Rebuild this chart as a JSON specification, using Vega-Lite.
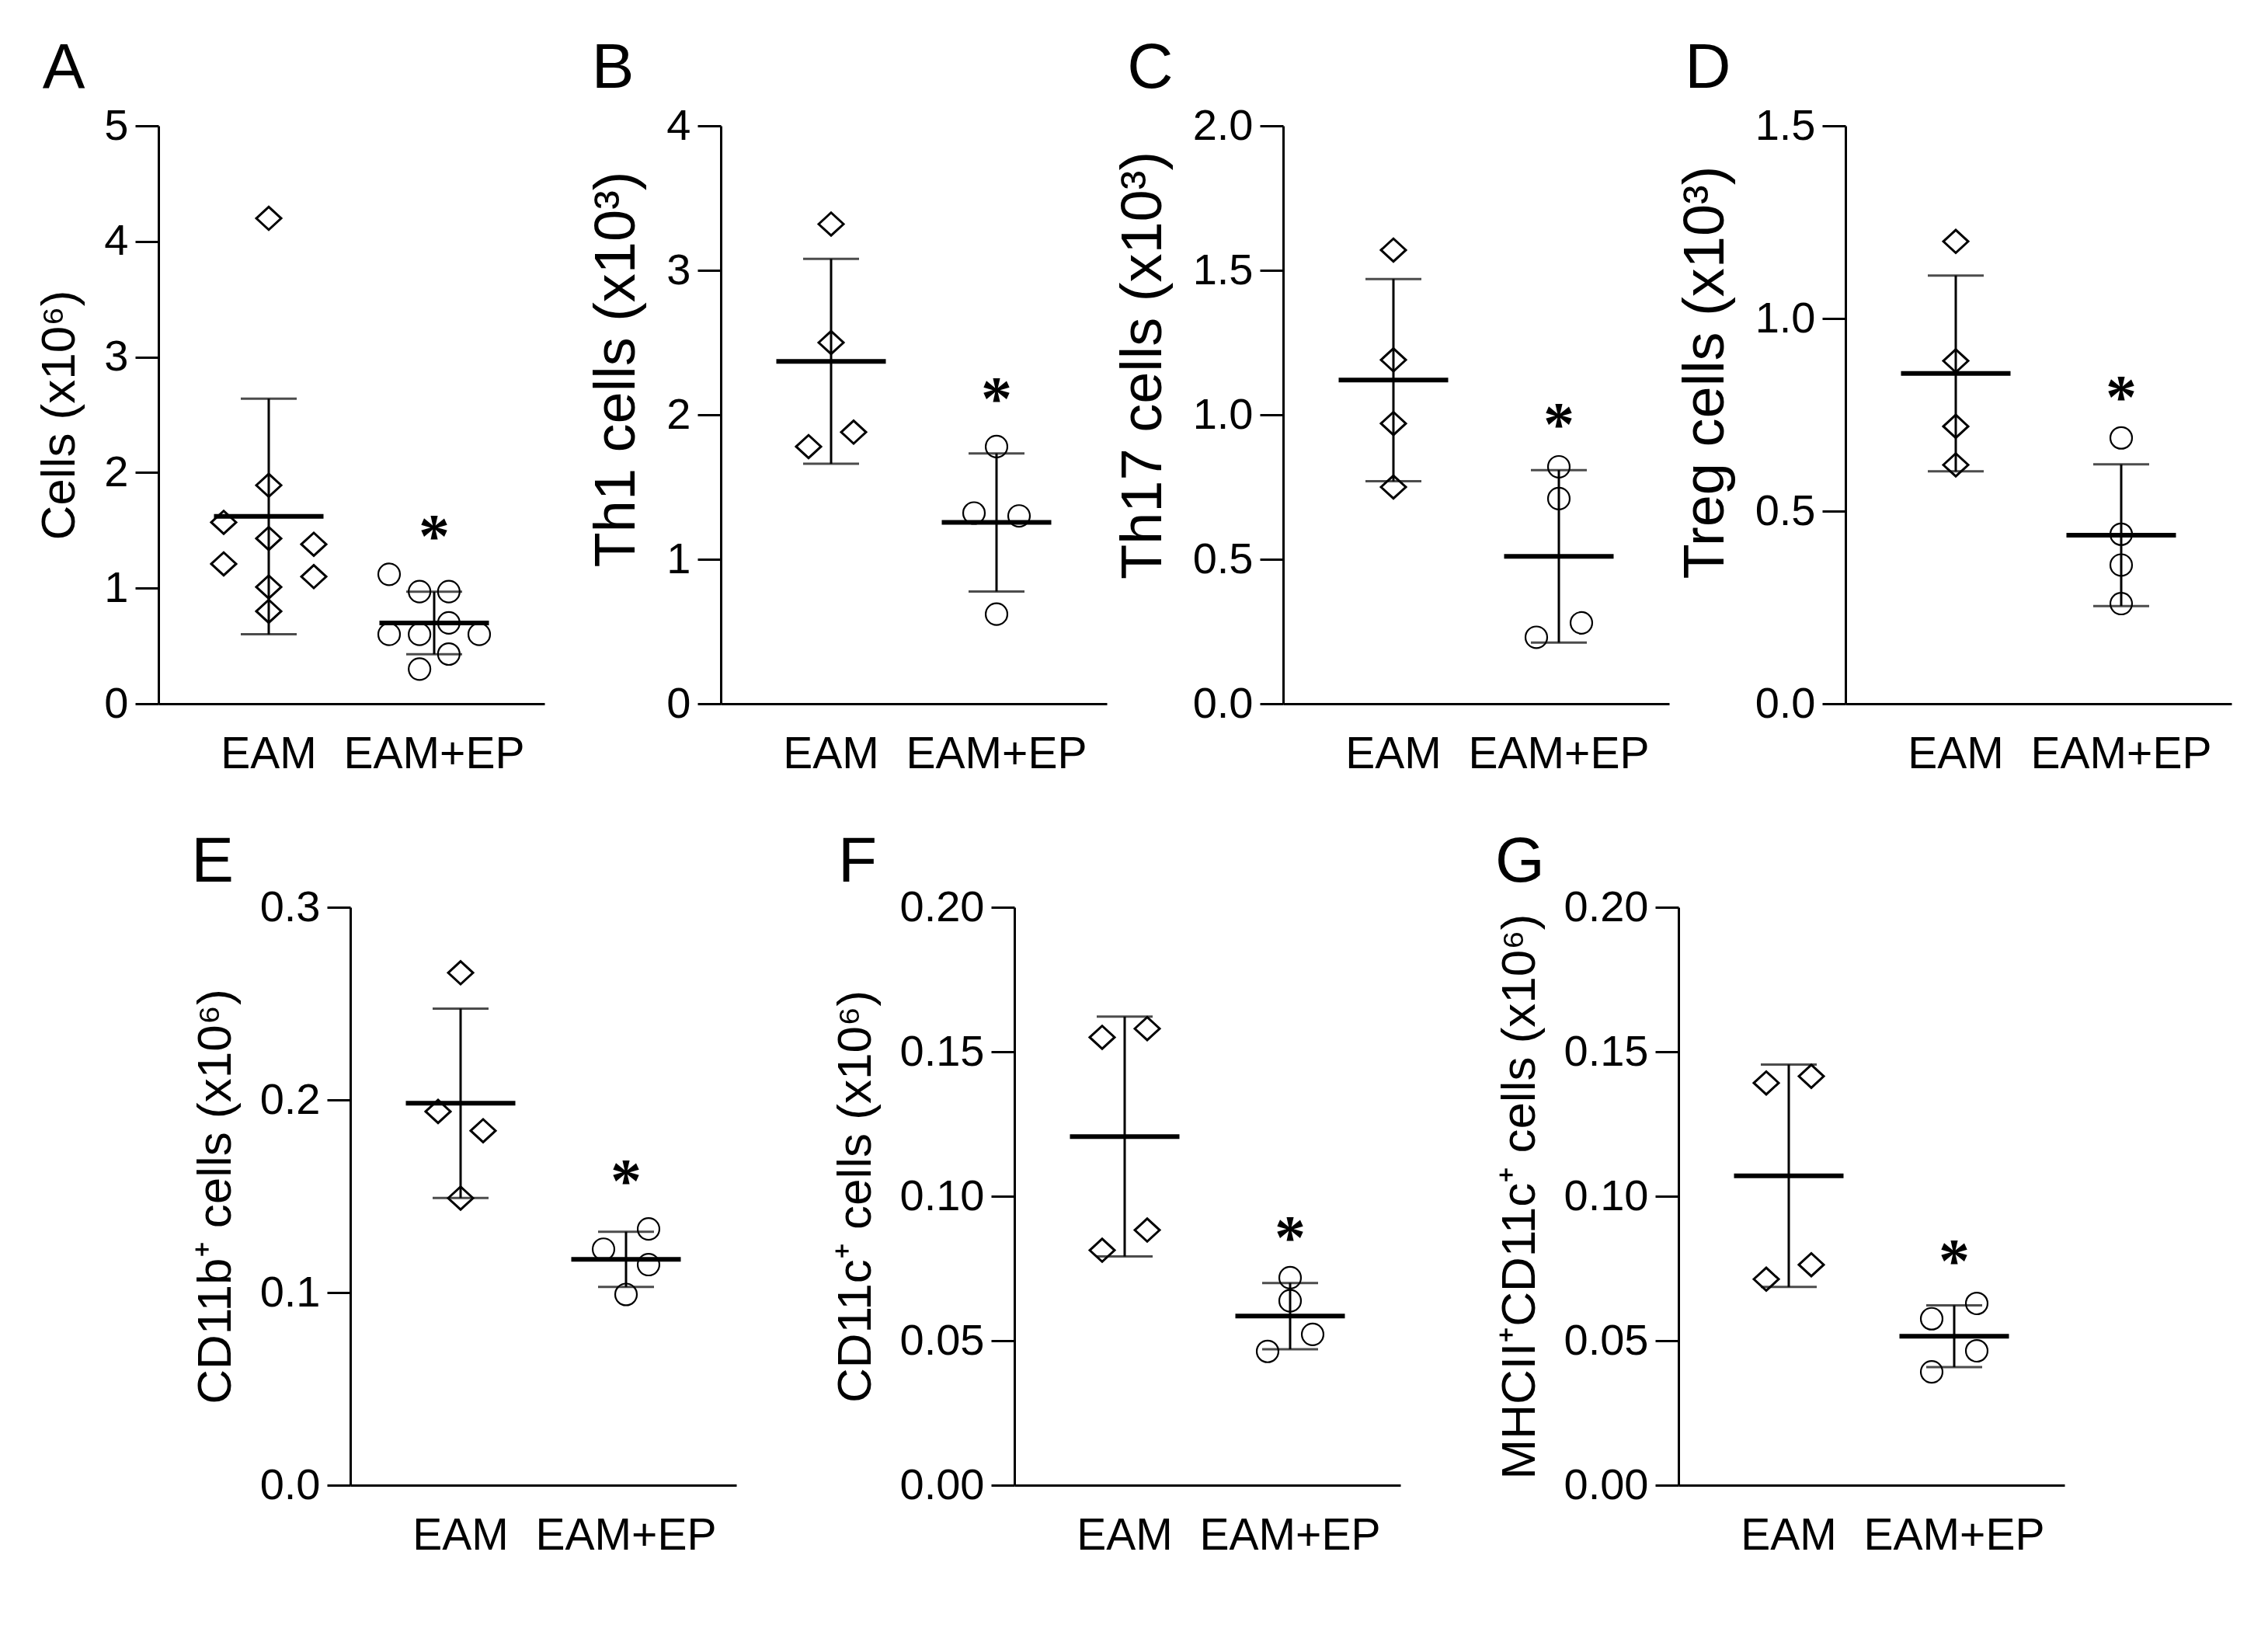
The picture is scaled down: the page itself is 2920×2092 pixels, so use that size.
{
  "$schema": "https://vega.github.io/schema/vega-lite/v6.json",
  "autosize": {"type": "none"},
  "padding": {"left": 204, "top": 162, "right": 2716, "bottom": 1930},
  "background": "white",
  "datasets": {
    "pts": [
      {"panel": "A", "group": "EAM", "value": 4.20, "lane": 0},
      {"panel": "A", "group": "EAM", "value": 1.89, "lane": 0},
      {"panel": "A", "group": "EAM", "value": 1.57, "lane": -2},
      {"panel": "A", "group": "EAM", "value": 1.43, "lane": 0},
      {"panel": "A", "group": "EAM", "value": 1.38, "lane": 2},
      {"panel": "A", "group": "EAM", "value": 1.21, "lane": -2},
      {"panel": "A", "group": "EAM", "value": 1.10, "lane": 2},
      {"panel": "A", "group": "EAM", "value": 1.01, "lane": 0},
      {"panel": "A", "group": "EAM", "value": 0.80, "lane": 0},
      {"panel": "A", "group": "EAM+EP", "value": 1.12, "lane": -2},
      {"panel": "A", "group": "EAM+EP", "value": 0.97, "lane": -0.65},
      {"panel": "A", "group": "EAM+EP", "value": 0.97, "lane": 0.65},
      {"panel": "A", "group": "EAM+EP", "value": 0.70, "lane": 0.65},
      {"panel": "A", "group": "EAM+EP", "value": 0.60, "lane": -2},
      {"panel": "A", "group": "EAM+EP", "value": 0.60, "lane": -0.65},
      {"panel": "A", "group": "EAM+EP", "value": 0.60, "lane": 2},
      {"panel": "A", "group": "EAM+EP", "value": 0.43, "lane": 0.65},
      {"panel": "A", "group": "EAM+EP", "value": 0.30, "lane": -0.65},
      {"panel": "B", "group": "EAM", "value": 3.32, "lane": 0},
      {"panel": "B", "group": "EAM", "value": 2.50, "lane": 0},
      {"panel": "B", "group": "EAM", "value": 1.88, "lane": 1},
      {"panel": "B", "group": "EAM", "value": 1.78, "lane": -1},
      {"panel": "B", "group": "EAM+EP", "value": 1.78, "lane": 0},
      {"panel": "B", "group": "EAM+EP", "value": 1.32, "lane": -1},
      {"panel": "B", "group": "EAM+EP", "value": 1.30, "lane": 1},
      {"panel": "B", "group": "EAM+EP", "value": 0.62, "lane": 0},
      {"panel": "C", "group": "EAM", "value": 1.57, "lane": 0},
      {"panel": "C", "group": "EAM", "value": 1.19, "lane": 0},
      {"panel": "C", "group": "EAM", "value": 0.97, "lane": 0},
      {"panel": "C", "group": "EAM", "value": 0.75, "lane": 0},
      {"panel": "C", "group": "EAM+EP", "value": 0.82, "lane": 0},
      {"panel": "C", "group": "EAM+EP", "value": 0.71, "lane": 0},
      {"panel": "C", "group": "EAM+EP", "value": 0.28, "lane": 1},
      {"panel": "C", "group": "EAM+EP", "value": 0.23, "lane": -1},
      {"panel": "D", "group": "EAM", "value": 1.20, "lane": 0},
      {"panel": "D", "group": "EAM", "value": 0.89, "lane": 0},
      {"panel": "D", "group": "EAM", "value": 0.72, "lane": 0},
      {"panel": "D", "group": "EAM", "value": 0.62, "lane": 0},
      {"panel": "D", "group": "EAM+EP", "value": 0.69, "lane": 0},
      {"panel": "D", "group": "EAM+EP", "value": 0.44, "lane": 0},
      {"panel": "D", "group": "EAM+EP", "value": 0.36, "lane": 0},
      {"panel": "D", "group": "EAM+EP", "value": 0.26, "lane": 0},
      {"panel": "E", "group": "EAM", "value": 0.266, "lane": 0},
      {"panel": "E", "group": "EAM", "value": 0.194, "lane": -1},
      {"panel": "E", "group": "EAM", "value": 0.184, "lane": 1},
      {"panel": "E", "group": "EAM", "value": 0.149, "lane": 0},
      {"panel": "E", "group": "EAM+EP", "value": 0.133, "lane": 1},
      {"panel": "E", "group": "EAM+EP", "value": 0.1225, "lane": -1},
      {"panel": "E", "group": "EAM+EP", "value": 0.1145, "lane": 1},
      {"panel": "E", "group": "EAM+EP", "value": 0.099, "lane": 0},
      {"panel": "F", "group": "EAM", "value": 0.155, "lane": -1},
      {"panel": "F", "group": "EAM", "value": 0.158, "lane": 1},
      {"panel": "F", "group": "EAM", "value": 0.0813, "lane": -1},
      {"panel": "F", "group": "EAM", "value": 0.0883, "lane": 1},
      {"panel": "F", "group": "EAM+EP", "value": 0.0718, "lane": 0},
      {"panel": "F", "group": "EAM+EP", "value": 0.0638, "lane": 0},
      {"panel": "F", "group": "EAM+EP", "value": 0.0522, "lane": 1},
      {"panel": "F", "group": "EAM+EP", "value": 0.0463, "lane": -1},
      {"panel": "G", "group": "EAM", "value": 0.1392, "lane": -1},
      {"panel": "G", "group": "EAM", "value": 0.1415, "lane": 1},
      {"panel": "G", "group": "EAM", "value": 0.0713, "lane": -1},
      {"panel": "G", "group": "EAM", "value": 0.0763, "lane": 1},
      {"panel": "G", "group": "EAM+EP", "value": 0.0629, "lane": 1},
      {"panel": "G", "group": "EAM+EP", "value": 0.0576, "lane": -1},
      {"panel": "G", "group": "EAM+EP", "value": 0.0465, "lane": 1},
      {"panel": "G", "group": "EAM+EP", "value": 0.0392, "lane": -1}
    ],
    "stars": [
      {"panel": "A", "group": "EAM+EP", "value": 1.53},
      {"panel": "B", "group": "EAM+EP", "value": 2.18},
      {"panel": "C", "group": "EAM+EP", "value": 1.0},
      {"panel": "D", "group": "EAM+EP", "value": 0.82},
      {"panel": "E", "group": "EAM+EP", "value": 0.163},
      {"panel": "F", "group": "EAM+EP", "value": 0.089},
      {"panel": "G", "group": "EAM+EP", "value": 0.081}
    ]
  },
  "config": {
    "font": "Liberation Sans",
    "view": {"stroke": null},
    "axis": {"domainColor": "#000", "domainWidth": 3, "tickColor": "#000", "tickWidth": 3, "labelColor": "#000", "titleColor": "#000", "grid": false, "labelFont": "Liberation Sans", "titleFont": "Liberation Sans", "titleFontWeight": "normal"},
    "axisY": {"tickSize": 30, "labelFontSize": 56, "labelPadding": 9, "titleFontSize": 62, "titlePadding": 25},
    "axisX": {"ticks": false, "labelFontSize": 57, "labelPadding": 37, "labelAngle": 0, "labelLimit": 600},
    "title": {"font": "Liberation Sans", "fontSize": 82, "fontWeight": "normal", "anchor": "start", "frame": "bounds", "color": "#000", "baseline": "alphabetic"}
  },
  "spacing": 1006,
  "bounds": "flush",
  "vconcat": [
    {
      "spacing": 227,
      "bounds": "flush",
      "hconcat": [
        {
          "width": 497, "height": 744,
          "title": {"text": "A", "offset": 4, "dx": 9},
          "data": {"name": "pts"},
          "transform": [{"filter": "datum.panel === 'A'"}],
          "encoding": {
            "x": {"field": "group", "type": "nominal", "scale": {"type": "band", "domain": ["EAM", "EAM+EP"], "paddingInner": 0, "paddingOuter": 0.1667}, "axis": {"title": null}},
            "y": {"field": "value", "type": "quantitative", "scale": {"domain": [0, 5], "nice": false}, "axis": {"values": [0, 1, 2, 3, 4, 5], "format": "d"}, "title": "Cells (x10⁶)"}
          },
          "layer": [
            {"mark": {"type": "errorbar", "extent": "stdev", "ticks": {"size": 72, "thickness": 3, "color": "#000"}, "rule": {"strokeWidth": 3, "color": "#000"}}},
            {"mark": {"type": "tick", "size": 141, "thickness": 6, "color": "#000"}, "encoding": {"y": {"aggregate": "mean", "field": "value", "type": "quantitative", "title": "Cells (x10⁶)"}}},
            {"transform": [{"filter": "datum.group === 'EAM'"}], "mark": {"type": "point", "shape": "M-1,0L0,-0.92L1,0L0,0.92Z", "size": 1024, "filled": false, "stroke": "#000", "strokeWidth": 3, "opacity": 1}, "encoding": {"xOffset": {"field": "lane", "type": "quantitative", "scale": {"domain": [-4, 4], "range": [-9.5, 222.5]}}}},
            {"transform": [{"filter": "datum.group === 'EAM+EP'"}], "mark": {"type": "point", "shape": "circle", "size": 780, "filled": false, "stroke": "#000", "strokeWidth": 2.2, "opacity": 1}, "encoding": {"xOffset": {"field": "lane", "type": "quantitative", "scale": {"domain": [-4, 4], "range": [-9.5, 222.5]}}}},
            {"data": {"name": "stars"}, "transform": [{"filter": "datum.panel === 'A'"}], "mark": {"type": "text", "text": "*", "font": "Liberation Serif", "fontSize": 80, "fontWeight": "bold", "baseline": "middle", "dy": 15, "color": "#000"}}
          ]
        },
        {
          "width": 497, "height": 744,
          "title": {"text": "B", "offset": 4, "dx": 4},
          "data": {"name": "pts"},
          "transform": [{"filter": "datum.panel === 'B'"}],
          "encoding": {
            "x": {"field": "group", "type": "nominal", "scale": {"type": "band", "domain": ["EAM", "EAM+EP"], "paddingInner": 0, "paddingOuter": 0.1667}, "axis": {"title": null}},
            "y": {"field": "value", "type": "quantitative", "scale": {"domain": [0, 4], "nice": false}, "axis": {"values": [0, 1, 2, 3, 4], "format": "d", "titleFontSize": 74, "titleY": 313}, "title": "Th1 cells (x10³)"}
          },
          "layer": [
            {"mark": {"type": "errorbar", "extent": "stdev", "ticks": {"size": 72, "thickness": 3, "color": "#000"}, "rule": {"strokeWidth": 3, "color": "#000"}}},
            {"mark": {"type": "tick", "size": 141, "thickness": 6, "color": "#000"}, "encoding": {"y": {"aggregate": "mean", "field": "value", "type": "quantitative", "title": "Th1 cells (x10³)"}}},
            {"transform": [{"filter": "datum.group === 'EAM'"}], "mark": {"type": "point", "shape": "M-1,0L0,-0.92L1,0L0,0.92Z", "size": 1024, "filled": false, "stroke": "#000", "strokeWidth": 3, "opacity": 1}, "encoding": {"xOffset": {"field": "lane", "type": "quantitative", "scale": {"domain": [-4, 4], "range": [-9.5, 222.5]}}}},
            {"transform": [{"filter": "datum.group === 'EAM+EP'"}], "mark": {"type": "point", "shape": "circle", "size": 780, "filled": false, "stroke": "#000", "strokeWidth": 2.2, "opacity": 1}, "encoding": {"xOffset": {"field": "lane", "type": "quantitative", "scale": {"domain": [-4, 4], "range": [-9.5, 222.5]}}}},
            {"data": {"name": "stars"}, "transform": [{"filter": "datum.panel === 'B'"}], "mark": {"type": "text", "text": "*", "font": "Liberation Serif", "fontSize": 80, "fontWeight": "bold", "baseline": "middle", "dy": 15, "color": "#000"}}
          ]
        },
        {
          "width": 497, "height": 744,
          "title": {"text": "C", "offset": 4, "dx": 16},
          "data": {"name": "pts"},
          "transform": [{"filter": "datum.panel === 'C'"}],
          "encoding": {
            "x": {"field": "group", "type": "nominal", "scale": {"type": "band", "domain": ["EAM", "EAM+EP"], "paddingInner": 0, "paddingOuter": 0.1667}, "axis": {"title": null}},
            "y": {"field": "value", "type": "quantitative", "scale": {"domain": [0, 2], "nice": false}, "axis": {"values": [0, 0.5, 1, 1.5, 2], "format": ".1f", "titleFontSize": 74, "titleY": 308}, "title": "Th17 cells (x10³)"}
          },
          "layer": [
            {"mark": {"type": "errorbar", "extent": "stdev", "ticks": {"size": 72, "thickness": 3, "color": "#000"}, "rule": {"strokeWidth": 3, "color": "#000"}}},
            {"mark": {"type": "tick", "size": 141, "thickness": 6, "color": "#000"}, "encoding": {"y": {"aggregate": "mean", "field": "value", "type": "quantitative", "title": "Th17 cells (x10³)"}}},
            {"transform": [{"filter": "datum.group === 'EAM'"}], "mark": {"type": "point", "shape": "M-1,0L0,-0.92L1,0L0,0.92Z", "size": 1024, "filled": false, "stroke": "#000", "strokeWidth": 3, "opacity": 1}, "encoding": {"xOffset": {"field": "lane", "type": "quantitative", "scale": {"domain": [-4, 4], "range": [-9.5, 222.5]}}}},
            {"transform": [{"filter": "datum.group === 'EAM+EP'"}], "mark": {"type": "point", "shape": "circle", "size": 780, "filled": false, "stroke": "#000", "strokeWidth": 2.2, "opacity": 1}, "encoding": {"xOffset": {"field": "lane", "type": "quantitative", "scale": {"domain": [-4, 4], "range": [-9.5, 222.5]}}}},
            {"data": {"name": "stars"}, "transform": [{"filter": "datum.panel === 'C'"}], "mark": {"type": "text", "text": "*", "font": "Liberation Serif", "fontSize": 80, "fontWeight": "bold", "baseline": "middle", "dy": 15, "color": "#000"}}
          ]
        },
        {
          "width": 497, "height": 744,
          "title": {"text": "D", "offset": 4, "dx": 10},
          "data": {"name": "pts"},
          "transform": [{"filter": "datum.panel === 'D'"}],
          "encoding": {
            "x": {"field": "group", "type": "nominal", "scale": {"type": "band", "domain": ["EAM", "EAM+EP"], "paddingInner": 0, "paddingOuter": 0.1667}, "axis": {"title": null}},
            "y": {"field": "value", "type": "quantitative", "scale": {"domain": [0, 1.5], "nice": false}, "axis": {"values": [0, 0.5, 1, 1.5], "format": ".1f", "titleFontSize": 74, "titleY": 317}, "title": "Treg cells (x10³)"}
          },
          "layer": [
            {"mark": {"type": "errorbar", "extent": "stdev", "ticks": {"size": 72, "thickness": 3, "color": "#000"}, "rule": {"strokeWidth": 3, "color": "#000"}}},
            {"mark": {"type": "tick", "size": 141, "thickness": 6, "color": "#000"}, "encoding": {"y": {"aggregate": "mean", "field": "value", "type": "quantitative", "title": "Treg cells (x10³)"}}},
            {"transform": [{"filter": "datum.group === 'EAM'"}], "mark": {"type": "point", "shape": "M-1,0L0,-0.92L1,0L0,0.92Z", "size": 1024, "filled": false, "stroke": "#000", "strokeWidth": 3, "opacity": 1}, "encoding": {"xOffset": {"field": "lane", "type": "quantitative", "scale": {"domain": [-4, 4], "range": [-9.5, 222.5]}}}},
            {"transform": [{"filter": "datum.group === 'EAM+EP'"}], "mark": {"type": "point", "shape": "circle", "size": 780, "filled": false, "stroke": "#000", "strokeWidth": 2.2, "opacity": 1}, "encoding": {"xOffset": {"field": "lane", "type": "quantitative", "scale": {"domain": [-4, 4], "range": [-9.5, 222.5]}}}},
            {"data": {"name": "stars"}, "transform": [{"filter": "datum.panel === 'D'"}], "mark": {"type": "text", "text": "*", "font": "Liberation Serif", "fontSize": 80, "fontWeight": "bold", "baseline": "middle", "dy": 15, "color": "#000"}}
          ]
        }
      ]
    },
    {
      "spacing": 0,
      "bounds": "flush",
      "hconcat": [
        {"width": 247, "height": 10, "data": {"values": [{"k": 1}]}, "mark": {"type": "point", "opacity": 0}, "encoding": {}},
        {
          "spacing": 358,
          "bounds": "flush",
          "hconcat": [
            {
              "width": 497, "height": 744,
              "title": {"text": "E", "offset": -12, "dx": 0},
              "data": {"name": "pts"},
              "transform": [{"filter": "datum.panel === 'E'"}],
              "encoding": {
                "x": {"field": "group", "type": "nominal", "scale": {"type": "band", "domain": ["EAM", "EAM+EP"], "paddingInner": 0, "paddingOuter": 0.1667}, "axis": {"title": null}},
                "y": {"field": "value", "type": "quantitative", "scale": {"domain": [0, 0.3], "nice": false}, "axis": {"values": [0, 0.1, 0.2, 0.3], "format": ".1f"}, "title": "CD11b⁺ cells (x10⁶)"}
              },
              "layer": [
                {"mark": {"type": "errorbar", "extent": "stdev", "ticks": {"size": 72, "thickness": 3, "color": "#000"}, "rule": {"strokeWidth": 3, "color": "#000"}}},
                {"mark": {"type": "tick", "size": 141, "thickness": 6, "color": "#000"}, "encoding": {"y": {"aggregate": "mean", "field": "value", "type": "quantitative", "title": "CD11b⁺ cells (x10⁶)"}}},
                {"transform": [{"filter": "datum.group === 'EAM'"}], "mark": {"type": "point", "shape": "M-1,0L0,-0.92L1,0L0,0.92Z", "size": 1024, "filled": false, "stroke": "#000", "strokeWidth": 3, "opacity": 1}, "encoding": {"xOffset": {"field": "lane", "type": "quantitative", "scale": {"domain": [-4, 4], "range": [-9.5, 222.5]}}}},
                {"transform": [{"filter": "datum.group === 'EAM+EP'"}], "mark": {"type": "point", "shape": "circle", "size": 780, "filled": false, "stroke": "#000", "strokeWidth": 2.2, "opacity": 1}, "encoding": {"xOffset": {"field": "lane", "type": "quantitative", "scale": {"domain": [-4, 4], "range": [-9.5, 222.5]}}}},
                {"data": {"name": "stars"}, "transform": [{"filter": "datum.panel === 'E'"}], "mark": {"type": "text", "text": "*", "font": "Liberation Serif", "fontSize": 80, "fontWeight": "bold", "baseline": "middle", "dy": 15, "color": "#000"}}
              ]
            },
            {
              "width": 497, "height": 744,
              "title": {"text": "F", "offset": -12, "dx": 9},
              "data": {"name": "pts"},
              "transform": [{"filter": "datum.panel === 'F'"}],
              "encoding": {
                "x": {"field": "group", "type": "nominal", "scale": {"type": "band", "domain": ["EAM", "EAM+EP"], "paddingInner": 0, "paddingOuter": 0.1667}, "axis": {"title": null}},
                "y": {"field": "value", "type": "quantitative", "scale": {"domain": [0, 0.2], "nice": false}, "axis": {"values": [0, 0.05, 0.1, 0.15, 0.2], "format": ".2f"}, "title": "CD11c⁺ cells (x10⁶)"}
              },
              "layer": [
                {"mark": {"type": "errorbar", "extent": "stdev", "ticks": {"size": 72, "thickness": 3, "color": "#000"}, "rule": {"strokeWidth": 3, "color": "#000"}}},
                {"mark": {"type": "tick", "size": 141, "thickness": 6, "color": "#000"}, "encoding": {"y": {"aggregate": "mean", "field": "value", "type": "quantitative", "title": "CD11c⁺ cells (x10⁶)"}}},
                {"transform": [{"filter": "datum.group === 'EAM'"}], "mark": {"type": "point", "shape": "M-1,0L0,-0.92L1,0L0,0.92Z", "size": 1024, "filled": false, "stroke": "#000", "strokeWidth": 3, "opacity": 1}, "encoding": {"xOffset": {"field": "lane", "type": "quantitative", "scale": {"domain": [-4, 4], "range": [-9.5, 222.5]}}}},
                {"transform": [{"filter": "datum.group === 'EAM+EP'"}], "mark": {"type": "point", "shape": "circle", "size": 780, "filled": false, "stroke": "#000", "strokeWidth": 2.2, "opacity": 1}, "encoding": {"xOffset": {"field": "lane", "type": "quantitative", "scale": {"domain": [-4, 4], "range": [-9.5, 222.5]}}}},
                {"data": {"name": "stars"}, "transform": [{"filter": "datum.panel === 'F'"}], "mark": {"type": "text", "text": "*", "font": "Liberation Serif", "fontSize": 80, "fontWeight": "bold", "baseline": "middle", "dy": 15, "color": "#000"}}
              ]
            },
            {
              "width": 497, "height": 744,
              "title": {"text": "G", "offset": -12, "dx": 0},
              "data": {"name": "pts"},
              "transform": [{"filter": "datum.panel === 'G'"}],
              "encoding": {
                "x": {"field": "group", "type": "nominal", "scale": {"type": "band", "domain": ["EAM", "EAM+EP"], "paddingInner": 0, "paddingOuter": 0.1667}, "axis": {"title": null}},
                "y": {"field": "value", "type": "quantitative", "scale": {"domain": [0, 0.2], "nice": false}, "axis": {"values": [0, 0.05, 0.1, 0.15, 0.2], "format": ".2f"}, "title": "MHCII⁺CD11c⁺ cells (x10⁶)"}
              },
              "layer": [
                {"mark": {"type": "errorbar", "extent": "stdev", "ticks": {"size": 72, "thickness": 3, "color": "#000"}, "rule": {"strokeWidth": 3, "color": "#000"}}},
                {"mark": {"type": "tick", "size": 141, "thickness": 6, "color": "#000"}, "encoding": {"y": {"aggregate": "mean", "field": "value", "type": "quantitative", "title": "MHCII⁺CD11c⁺ cells (x10⁶)"}}},
                {"transform": [{"filter": "datum.group === 'EAM'"}], "mark": {"type": "point", "shape": "M-1,0L0,-0.92L1,0L0,0.92Z", "size": 1024, "filled": false, "stroke": "#000", "strokeWidth": 3, "opacity": 1}, "encoding": {"xOffset": {"field": "lane", "type": "quantitative", "scale": {"domain": [-4, 4], "range": [-9.5, 222.5]}}}},
                {"transform": [{"filter": "datum.group === 'EAM+EP'"}], "mark": {"type": "point", "shape": "circle", "size": 780, "filled": false, "stroke": "#000", "strokeWidth": 2.2, "opacity": 1}, "encoding": {"xOffset": {"field": "lane", "type": "quantitative", "scale": {"domain": [-4, 4], "range": [-9.5, 222.5]}}}},
                {"data": {"name": "stars"}, "transform": [{"filter": "datum.panel === 'G'"}], "mark": {"type": "text", "text": "*", "font": "Liberation Serif", "fontSize": 80, "fontWeight": "bold", "baseline": "middle", "dy": 15, "color": "#000"}}
              ]
            }
          ]
        }
      ]
    }
  ]
}
